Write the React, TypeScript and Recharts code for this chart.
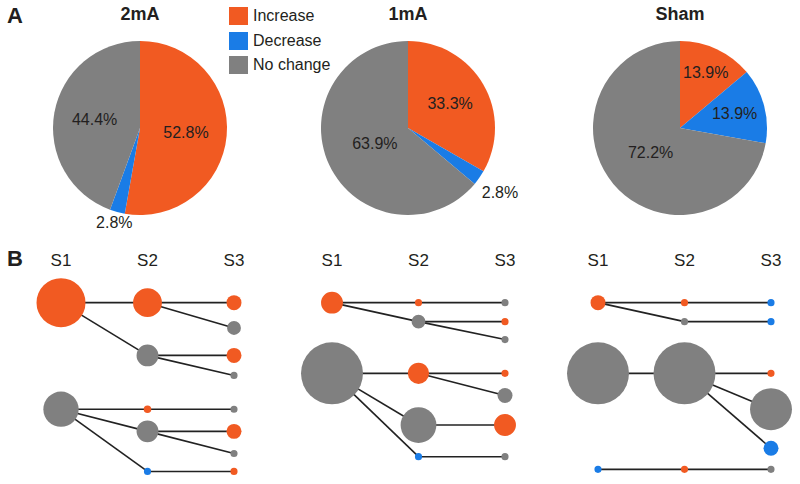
import { PieChart, Pie, Cell, Legend, ScatterChart, Scatter, XAxis, YAxis, ZAxis } from 'recharts';

const CATEGORIES = ['Increase', 'Decrease', 'No change'];
const GROUPS = ['2mA', '1mA', 'Sham'];
const STAGES = ['S1', 'S2', 'S3'];

// percentages per group, in CATEGORIES order
const pct2mA = [52.8, 2.8, 44.4];
const pct1mA = [33.3, 2.8, 63.9];
const pctSham = [13.9, 13.9, 72.2];

// B: transition nodes (stage, row, size, category index)
const nodes2mA = [
  { id: 'a1', stage: 1, row: 0, z: 37.5, kind: 0 },
  { id: 'a2', stage: 1, row: 5.05, z: 19.5, kind: 2 },
  { id: 'b1', stage: 2, row: 0, z: 13, kind: 0 },
  { id: 'b2', stage: 2, row: 2.5, z: 7.5, kind: 2 },
  { id: 'b3', stage: 2, row: 5.05, z: 0.9, kind: 0 },
  { id: 'b4', stage: 2, row: 6.1, z: 7.5, kind: 2 },
  { id: 'b5', stage: 2, row: 8, z: 0.8, kind: 1 },
  { id: 'c1', stage: 3, row: 0, z: 3.5, kind: 0 },
  { id: 'c2', stage: 3, row: 1.2, z: 3, kind: 2 },
  { id: 'c3', stage: 3, row: 2.5, z: 3.5, kind: 0 },
  { id: 'c4', stage: 3, row: 3.45, z: 0.8, kind: 2 },
  { id: 'c5', stage: 3, row: 5.05, z: 0.8, kind: 2 },
  { id: 'c6', stage: 3, row: 6.1, z: 3.5, kind: 0 },
  { id: 'c7', stage: 3, row: 7.15, z: 0.8, kind: 2 },
  { id: 'c8', stage: 3, row: 8, z: 0.8, kind: 0 },
];
const edges2mA = [
  ['a1', 'b1'], ['a1', 'b2'], ['b1', 'c1'], ['b1', 'c2'], ['b2', 'c3'], ['b2', 'c4'],
  ['a2', 'b3'], ['a2', 'b4'], ['a2', 'b5'], ['b3', 'c5'], ['b4', 'c6'], ['b4', 'c7'], ['b5', 'c8'],
];

const nodes1mA = [
  { id: 'a1', stage: 1, row: 0, z: 7.5, kind: 0 },
  { id: 'a2', stage: 1, row: 3.35, z: 60, kind: 2 },
  { id: 'b1', stage: 2, row: 0, z: 0.8, kind: 0 },
  { id: 'b2', stage: 2, row: 0.9, z: 3, kind: 2 },
  { id: 'b3', stage: 2, row: 3.35, z: 7, kind: 0 },
  { id: 'b4', stage: 2, row: 5.8, z: 20, kind: 2 },
  { id: 'b5', stage: 2, row: 7.3, z: 0.8, kind: 1 },
  { id: 'c1', stage: 3, row: 0, z: 0.8, kind: 2 },
  { id: 'c2', stage: 3, row: 0.9, z: 0.8, kind: 0 },
  { id: 'c3', stage: 3, row: 1.75, z: 0.8, kind: 2 },
  { id: 'c4', stage: 3, row: 3.35, z: 0.8, kind: 0 },
  { id: 'c5', stage: 3, row: 4.4, z: 3.5, kind: 2 },
  { id: 'c6', stage: 3, row: 5.8, z: 7.5, kind: 0 },
  { id: 'c7', stage: 3, row: 7.3, z: 0.8, kind: 2 },
];
const edges1mA = [
  ['a1', 'b1'], ['a1', 'b2'], ['b1', 'c1'], ['b2', 'c2'], ['b2', 'c3'],
  ['a2', 'b3'], ['a2', 'b4'], ['a2', 'b5'], ['b3', 'c4'], ['b3', 'c5'], ['b4', 'c6'], ['b5', 'c7'],
];

const nodesSham = [
  { id: 'a1', stage: 1, row: 0, z: 3.5, kind: 0 },
  { id: 'a2', stage: 1, row: 3.35, z: 60, kind: 2 },
  { id: 'a3', stage: 1, row: 7.9, z: 0.8, kind: 1 },
  { id: 'b1', stage: 2, row: 0, z: 0.8, kind: 0 },
  { id: 'b2', stage: 2, row: 0.9, z: 0.8, kind: 2 },
  { id: 'b3', stage: 2, row: 3.35, z: 60, kind: 2 },
  { id: 'b4', stage: 2, row: 7.9, z: 0.8, kind: 0 },
  { id: 'c1', stage: 3, row: 0, z: 0.8, kind: 1 },
  { id: 'c2', stage: 3, row: 0.9, z: 0.8, kind: 1 },
  { id: 'c3', stage: 3, row: 3.35, z: 0.8, kind: 0 },
  { id: 'c4', stage: 3, row: 5.05, z: 27.5, kind: 2 },
  { id: 'c5', stage: 3, row: 6.9, z: 3.5, kind: 1 },
  { id: 'c6', stage: 3, row: 7.9, z: 0.8, kind: 2 },
];
const edgesSham = [
  ['a1', 'b1'], ['a1', 'b2'], ['b1', 'c1'], ['b2', 'c2'],
  ['a2', 'b3'], ['b3', 'c3'], ['b3', 'c4'], ['b3', 'c5'],
  ['a3', 'b4'], ['b4', 'c6'],
];

const COLORS = ['#F15A22', '#1A7CE6', '#808080'];
const FONT = '"Liberation Sans", Arial, Helvetica, sans-serif';
const INK = '#231F20';

// pie layout
const PIE_CX = [140, 408, 680];
const PIE_R = 87;
const LABEL_R = [
  [0.53, 1.13, 0.53],
  [0.56, 1.29, 0.42],
  [0.7, 0.65, 0.44],
];

// B panel layout: x of S1 in each panel
const PANEL_S1 = [61, 332, 598];

const toPieData = (pct: number[]) => CATEGORIES.map((name, i) => ({ name, value: pct[i] }));

function makeLabel(factors: number[]) {
  return (props: any) => {
    const { cx, cy, midAngle, outerRadius, index, value } = props;
    const r = outerRadius * factors[index];
    const rad = (Math.PI / 180) * midAngle;
    const x = cx + r * Math.cos(rad);
    const y = cy - r * Math.sin(rad);
    return (
      <text x={x} y={y} textAnchor="middle" dominantBaseline="central" fill={INK} fontSize={16} fontFamily={FONT}>
        {value.toFixed(1)}%
      </text>
    );
  };
}

function renderLegend() {
  return (
    <div style={{ fontFamily: FONT, fontSize: 16, color: INK }}>
      {CATEGORIES.map((c, i) => (
        <div key={c} style={{ display: 'flex', alignItems: 'center', height: 24.5 }}>
          <span style={{ width: 19, height: 18, background: COLORS[i], marginRight: 5, display: 'inline-block' }} />
          <span>{c}</span>
        </div>
      ))}
    </div>
  );
}

function Transitions({ nodes, edges, left }: { nodes: any[]; edges: string[][]; left: number }) {
  const byId: Record<string, any> = {};
  nodes.forEach((n) => (byId[n.id] = n));
  return (
    <div style={{ position: 'absolute', left: left - 35, top: 241 }}>
      <ScatterChart width={238} height={241} margin={{ top: 0, right: 30, bottom: 0, left: 35 }}>
        <XAxis
          type="number"
          dataKey="stage"
          domain={[1, 3]}
          ticks={[1, 2, 3]}
          orientation="top"
          height={30}
          axisLine={false}
          tickLine={false}
          tickSize={0}
          tickMargin={5}
          tickFormatter={(v: number) => STAGES[v - 1]}
          tick={{ fontSize: 17, fill: INK, fontFamily: FONT }}
        />
        <YAxis type="number" dataKey="row" domain={[-1.5, 8.5]} reversed hide />
        <ZAxis type="number" dataKey="z" domain={[0, 60]} range={[0, 3016]} />
        {edges.map(([f, t]) => (
          <Scatter
            key={f + t}
            data={[byId[f], byId[t]]}
            line={{ stroke: '#222', strokeWidth: 1.6 }}
            shape={() => <g />}
            isAnimationActive={false}
          />
        ))}
        <Scatter data={nodes} isAnimationActive={false}>
          {nodes.map((n) => (
            <Cell key={n.id} fill={COLORS[n.kind]} />
          ))}
        </Scatter>
      </ScatterChart>
    </div>
  );
}

export default function App() {
  const pies = [pct2mA, pct1mA, pctSham];
  const panels = [
    { nodes: nodes2mA, edges: edges2mA },
    { nodes: nodes1mA, edges: edges1mA },
    { nodes: nodesSham, edges: edgesSham },
  ];
  return (
    <div style={{ position: 'absolute', left: 0, top: 0, width: 800, height: 484, background: '#fff', fontFamily: FONT, color: INK }}>
      <div style={{ position: 'absolute', left: 7, top: 3, fontSize: 22, fontWeight: 'bold' }}>A</div>
      <div style={{ position: 'absolute', left: 7, top: 246, fontSize: 22, fontWeight: 'bold' }}>B</div>
      {GROUPS.map((g, i) => (
        <div
          key={g}
          style={{ position: 'absolute', left: PIE_CX[i] - 60, width: 120, top: 4, textAlign: 'center', fontSize: 18, fontWeight: 'bold' }}
        >
          {g}
        </div>
      ))}
      <div style={{ position: 'absolute', left: 0, top: 0 }}>
        <PieChart width={800} height={232} margin={{ top: 0, right: 0, bottom: 0, left: 0 }}>
          {pies.map((pct, i) => (
            <Pie
              key={GROUPS[i]}
              data={toPieData(pct)}
              dataKey="value"
              nameKey="name"
              cx={PIE_CX[i]}
              cy={128}
              outerRadius={PIE_R}
              startAngle={90}
              endAngle={-270}
              stroke="none"
              labelLine={false}
              label={makeLabel(LABEL_R[i])}
              isAnimationActive={false}
            >
              {CATEGORIES.map((c, j) => (
                <Cell key={c} fill={COLORS[j]} />
              ))}
            </Pie>
          ))}
          <Legend content={renderLegend} wrapperStyle={{ position: 'absolute', left: 229, top: 4, width: 130, height: 75 }} />
        </PieChart>
      </div>
      {panels.map((p, i) => (
        <Transitions key={i} nodes={p.nodes} edges={p.edges} left={PANEL_S1[i]} />
      ))}
    </div>
  );
}
